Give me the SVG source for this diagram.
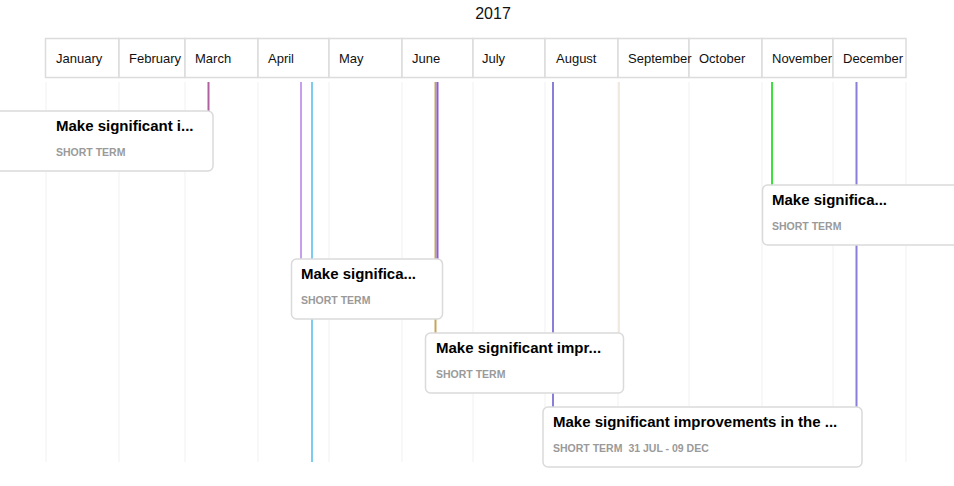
<svg xmlns="http://www.w3.org/2000/svg" width="954" height="486" viewBox="0 0 954 486">
<style>
.bg{fill:#fff}
.hdr{fill:#fff;stroke:#dcdcdc;stroke-width:1.5}
.mon{font-family:"Liberation Sans",Arial,sans-serif;font-size:13px;fill:#111}
.yr{font-family:"Liberation Sans",Arial,sans-serif;font-size:16px;fill:#111}
.grid{stroke:#f6f6f6;stroke-width:1.5}
.ln{stroke-width:2;fill:none}
.card{fill:#fff;stroke:#dadada;stroke-width:1.5}
.ttl{font-family:"Liberation Sans",Arial,sans-serif;font-size:15px;font-weight:bold;fill:#000}
.sub{font-family:"Liberation Sans",Arial,sans-serif;font-size:10.5px;font-weight:bold;fill:#9a9a9a}
</style>
<rect class="bg" x="0" y="0" width="954" height="486"/>
<text class="yr" x="493" y="19" text-anchor="middle">2017</text>
<g id="grid">
<line class="grid" x1="46" y1="82" x2="46" y2="462"/>
<line class="grid" x1="119" y1="82" x2="119" y2="462"/>
<line class="grid" x1="185" y1="82" x2="185" y2="462"/>
<line class="grid" x1="258" y1="82" x2="258" y2="462"/>
<line class="grid" x1="329" y1="82" x2="329" y2="462"/>
<line class="grid" x1="402" y1="82" x2="402" y2="462"/>
<line class="grid" x1="473" y1="82" x2="473" y2="462"/>
<line class="grid" x1="545" y1="82" x2="545" y2="462"/>
<line class="grid" x1="618" y1="82" x2="618" y2="462"/>
<line class="grid" x1="689" y1="82" x2="689" y2="462"/>
<line class="grid" x1="762" y1="82" x2="762" y2="462"/>
<line class="grid" x1="833" y1="82" x2="833" y2="462"/>
<line class="grid" x1="906" y1="82" x2="906" y2="462"/>
</g>
<g id="header">
<rect class="hdr" x="45.5" y="38.5" width="73.5" height="39"/>
<rect class="hdr" x="119" y="38.5" width="66" height="39"/>
<rect class="hdr" x="185" y="38.5" width="73" height="39"/>
<rect class="hdr" x="258" y="38.5" width="71" height="39"/>
<rect class="hdr" x="329" y="38.5" width="73" height="39"/>
<rect class="hdr" x="402" y="38.5" width="71" height="39"/>
<rect class="hdr" x="473" y="38.5" width="72" height="39"/>
<rect class="hdr" x="545" y="38.5" width="73" height="39"/>
<rect class="hdr" x="618" y="38.5" width="71" height="39"/>
<rect class="hdr" x="689" y="38.5" width="73" height="39"/>
<rect class="hdr" x="762" y="38.5" width="71" height="39"/>
<rect class="hdr" x="833" y="38.5" width="73" height="39"/>
<text class="mon" x="56" y="63">January</text>
<text class="mon" x="129" y="63">February</text>
<text class="mon" x="195" y="63">March</text>
<text class="mon" x="268" y="63">April</text>
<text class="mon" x="339" y="63">May</text>
<text class="mon" x="412" y="63">June</text>
<text class="mon" x="482" y="63">July</text>
<text class="mon" x="556" y="63">August</text>
<text class="mon" x="628" y="63">September</text>
<text class="mon" x="699" y="63">October</text>
<text class="mon" x="772" y="63">November</text>
<text class="mon" x="843" y="63">December</text>
</g>
<g id="connectors">
<line class="ln" x1="208.5" y1="82" x2="208.5" y2="112" stroke="#b0609e"/>
<line class="ln" x1="301" y1="82" x2="301" y2="260" stroke="#c6a0ea"/>
<line class="ln" x1="312" y1="82" x2="312" y2="462" stroke="#7ecbf2"/>
<line class="ln" x1="435.5" y1="82" x2="435.5" y2="334" stroke="#c4a55a"/>
<line class="ln" x1="437.5" y1="82" x2="437.5" y2="280" stroke="#8a5ae0"/>
<line class="ln" x1="553" y1="82" x2="553" y2="408" stroke="#8a7fd8"/>
<line x1="619" y1="82" x2="619" y2="334" stroke="#ece3d6" stroke-width="1.5"/>
<line class="ln" x1="772" y1="82" x2="772" y2="186" stroke="#3ee03e"/>
<line class="ln" x1="856.5" y1="82" x2="856.5" y2="462" stroke="#8a7fd8"/>
</g>
<g id="item1">
<rect class="card" x="-10" y="111" width="223" height="60" rx="5"/>
<text class="ttl" x="56" y="131">Make significant i...</text>
<text class="sub" x="56" y="156">SHORT TERM</text>
</g>
<g id="item2">
<rect class="card" x="291.5" y="259" width="151" height="60" rx="5"/>
<text class="ttl" x="301" y="279">Make significa...</text>
<text class="sub" x="301" y="304">SHORT TERM</text>
</g>
<g id="item3">
<rect class="card" x="425.5" y="333" width="198" height="60" rx="5"/>
<text class="ttl" x="436" y="353">Make significant impr...</text>
<text class="sub" x="436" y="378">SHORT TERM</text>
</g>
<g id="item4">
<rect class="card" x="543" y="407" width="319" height="60" rx="5"/>
<text class="ttl" x="553" y="427">Make significant improvements in the ...</text>
<text class="sub" x="553" y="452">SHORT TERM<tspan dx="6">31 JUL - 09 DEC</tspan></text>
</g>
<g id="item5">
<rect class="card" x="762.5" y="185" width="205" height="60" rx="5"/>
<text class="ttl" x="772" y="205">Make significa...</text>
<text class="sub" x="772" y="230">SHORT TERM</text>
</g>
</svg>
